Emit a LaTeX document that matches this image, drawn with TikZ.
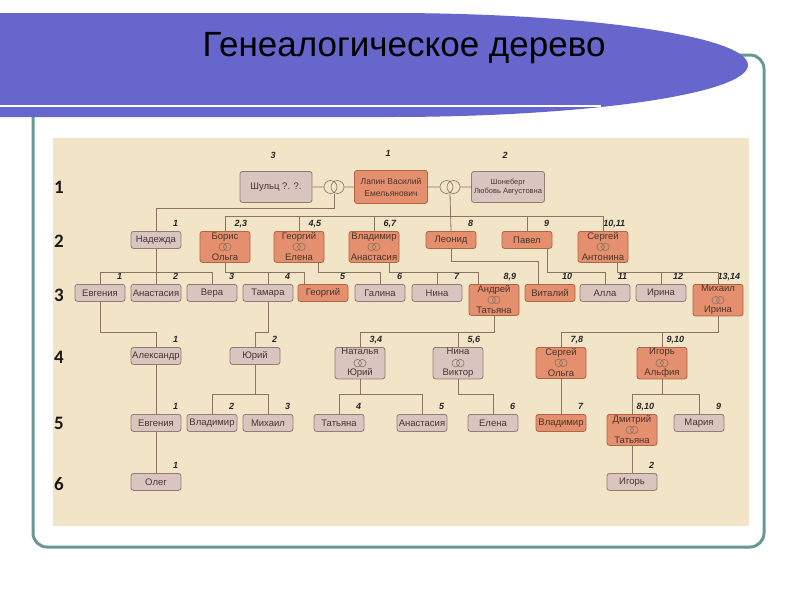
\documentclass[tikz,border=0pt]{standalone}
\usepackage{fontspec}
\setmainfont{Liberation Sans}
\newfontfamily\genfont{Carlito}

\definecolor{banner}{RGB}{102,102,204}
\definecolor{frame}{RGB}{104,152,150}
\definecolor{paper}{RGB}{242,228,199}
\definecolor{graybox}{RGB}{217,197,191}
\definecolor{grayedge}{RGB}{146,124,116}
\definecolor{salmon}{RGB}{228,143,110}
\definecolor{salmonedge}{RGB}{178,100,70}
\definecolor{linkcol}{RGB}{138,116,98}
\definecolor{txt}{RGB}{72,54,46}

\tikzset{
  box/.style={draw=grayedge, fill=graybox, rounded corners=2.5pt, line width=0.8pt,
              minimum width=50pt, minimum height=17pt, inner sep=1pt, anchor=north,
              text=txt, font=\fontsize{9.5}{10}\selectfont},
  direct/.style={draw=salmonedge, fill=salmon},
  couple/.style={minimum height=31pt, align=center},
  num/.style={anchor=base east, xshift=-3pt, yshift=5pt, inner sep=0pt,
              font=\fontsize{9}{10}\selectfont\bfseries\itshape, text=black!85},
  gen/.style={font=\genfont\bfseries\fontsize{19}{20}\selectfont, text=black!90},
  rings/.style={minimum width=20pt, minimum height=13pt, inner sep=0pt},
  link/.style={draw=linkcol, line width=0.8pt},
  ring/.style={draw=linkcol, line width=0.6pt}
}

\begin{document}
\begin{tikzpicture}[x=1pt, y=-1pt]
  \useasboundingbox (0,0) rectangle (800,600);
  % slide
  \fill[paper] (53,138) rectangle (749,526);
  \draw[frame, line width=3pt, rounded corners=14pt] (33,55) rectangle (764,547);
  \fill[banner] (0,13) -- (390,13) arc[start angle=90, end angle=-90, x radius=358pt, y radius=52pt]
    -- (0,117) -- cycle;
  \draw[white, line width=1.5pt] (0,106) -- (601,106);
  \node[font=\fontsize{35}{40}\selectfont] (title) at (404,48) {Генеалогическое дерево};

  % generation numbers
  \node[gen] (g1) at (59,187) {1};
  \node[gen] (g2) at (59,241) {2};
  \node[gen] (g3) at (59,295) {3};
  \node[gen] (g4) at (59,357) {4};
  \node[gen] (g5) at (59,423) {5};
  \node[gen] (g6) at (59,484) {6};

  \coordinate (lvl2a) at (0,208);
  \coordinate (lvl2b) at (0,216);
  \coordinate (lvl3) at (0,272);
  \coordinate (lvl3b) at (0,261);
  \coordinate (lvl4) at (0,332);
  \coordinate (lvl5) at (0,394);

  % generation 1
  \node[box, minimum width=72pt, minimum height=31pt] (shu) at (276,171) {Шульц ?. ?.};
  \node[box, direct, minimum width=73pt, minimum height=33pt, align=center,
        font=\fontsize{8.5}{12}\selectfont] (lap) at (391,170) {Лапин Василий\\Емельянович};
  \node[box, minimum width=73pt, minimum height=31pt, align=center,
        font=\fontsize{7.5}{9.5}\selectfont] (sho) at (508,171) {Шонеберг\\Любовь Августовна};
  \node[num, anchor=base, xshift=0pt, yshift=8pt] (shu-n) at (shu.north) {3};
  \node[num, anchor=base, xshift=0pt, yshift=9pt] (lap-n) at (lap.north) {1};
  \node[num, anchor=base, xshift=0pt, yshift=8pt] (sho-n) at (sho.north) {2};
  \node[rings] (r1) at (334,187) {};
  \node[rings] (r2) at (450,187) {};
  \draw[ring] ([xshift=-3.5pt]r1.center) circle (6.5pt) ([xshift=3.5pt]r1.center) circle (6.5pt);
  \draw[ring] ([xshift=-3.5pt]r2.center) circle (6.5pt) ([xshift=3.5pt]r2.center) circle (6.5pt);
  \draw[link] (shu.east) -- (r1.west) (r1.east) -- (lap.west);
  \draw[link] (lap.east) -- (r2.west) (r2.east) -- (sho.west);

  % generation 2
  \node[box] (nad) at (156,231) {Надежда};
  \node[box, direct, couple] (bor) at (225,231) {Борис\\[11pt]Ольга};
  \node[box, direct, couple] (gre) at (299,231) {Георгий\\[11pt]Елена};
  \node[box, direct, couple] (vla) at (374,231) {Владимир\\[11pt]Анастасия};
  \node[box, direct] (leo) at (451,231) {Леонид};
  \node[box, direct] (pav) at (527,231) {Павел};
  \node[box, direct, couple] (ser) at (603,231) {Сергей\\[11pt]Антонина};
  \node[num] (nad-n) at (nad.north east) {1};
  \node[num] (bor-n) at (bor.north east) {2,3};
  \node[num] (gre-n) at (gre.north east) {4,5};
  \node[num] (vla-n) at (vla.north east) {6,7};
  \node[num] (leo-n) at (leo.north east) {8};
  \node[num] (pav-n) at (pav.north east) {9};
  \node[num] (ser-n) at (ser.north east) {10,11};
  \draw[link] (r1.south) -- (r1.south |- lvl2a) -| (nad.north);
  \draw[link] (r2.south) -- (leo.north);
  \draw[link] (bor.north) |- (ser.north |- lvl2b) -- (ser.north);
  \draw[link] (gre.north) -- (gre.north |- lvl2b);
  \draw[link] (vla.north) -- (vla.north |- lvl2b);
  \draw[link] (pav.north) -- (pav.north |- lvl2b);

  % generation 3
  \node[box] (evg) at (100,284) {Евгения};
  \node[box] (ana) at (156,284) {Анастасия};
  \node[box] (ver) at (212,284) {Вера};
  \node[box] (tam) at (268,284) {Тамара};
  \node[box, direct] (geo) at (323,284) {Георгий};
  \node[box] (gal) at (380,284) {Галина};
  \node[box] (nin) at (437,284) {Нина};
  \node[box, direct, couple] (and) at (494,284) {Андрей\\[11pt]Татьяна};
  \node[box, direct] (vit) at (550,284) {Виталий};
  \node[box] (all) at (605,284) {Алла};
  \node[box] (iri) at (661,284) {Ирина};
  \node[box, direct, couple] (mih) at (718,284) {Михаил\\[11pt]Ирина};
  \node[num] (evg-n) at (evg.north east) {1};
  \node[num] (ana-n) at (ana.north east) {2};
  \node[num] (ver-n) at (ver.north east) {3};
  \node[num] (tam-n) at (tam.north east) {4};
  \node[num] (geo-n) at (geo.north east) {5};
  \node[num] (gal-n) at (gal.north east) {6};
  \node[num] (nin-n) at (nin.north east) {7};
  \node[num] (and-n) at (and.north east) {8,9};
  \node[num] (vit-n) at (vit.north east) {10};
  \node[num] (all-n) at (all.north east) {11};
  \node[num] (iri-n) at (iri.north east) {12};
  \node[num] (mih-n) at (mih.north east) {13,14};
  \draw[link] (nad.south) -- (ana.north);
  \draw[link] (evg.north) |- (ver.north |- lvl3) -- (ver.north);
  \draw[link] (bor.south) -- (bor.south |- lvl3) -| ([xshift=-19pt]geo.north);
  \draw[link] (tam.north) -- (tam.north |- lvl3);
  \draw[link] ([xshift=19pt]gre.south) -- ([xshift=19pt]gre.south |- lvl3) -| (gal.north);
  \draw[link] ([xshift=15pt]vla.south) -- ([xshift=15pt]vla.south |- lvl3) -| ([xshift=-16pt]and.north);
  \draw[link] (nin.north) -- (nin.north |- lvl3);
  \draw[link] (leo.south) -- (leo.south |- lvl3b) -| ([xshift=-12pt]vit.north);
  \draw[link] ([xshift=20pt]pav.south) -- ([xshift=20pt]pav.south |- lvl3) -| (all.north);
  \draw[link] ([xshift=14pt]ser.south) -- ([xshift=14pt]ser.south |- lvl3) -| (mih.north);
  \draw[link] (iri.north) -- (iri.north |- lvl3);

  % generation 4
  \node[box] (ale) at (156,347) {Александр};
  \node[box] (yur) at (255,347) {Юрий};
  \node[box, couple] (nat) at (360,347) {Наталья\\[11pt]Юрий};
  \node[box, couple] (niv) at (458,347) {Нина\\[11pt]Виктор};
  \node[box, direct, couple] (svo) at (561,347) {Сергей\\[11pt]Ольга};
  \node[box, direct, couple] (iga) at (662,347) {Игорь\\[11pt]Альфия};
  \node[num] (ale-n) at (ale.north east) {1};
  \node[num] (yur-n) at (yur.north east) {2};
  \node[num] (nat-n) at (nat.north east) {3,4};
  \node[num] (niv-n) at (niv.north east) {5,6};
  \node[num] (svo-n) at (svo.north east) {7,8};
  \node[num] (iga-n) at (iga.north east) {9,10};
  \draw[link] (evg.south) -- (evg.south |- lvl4) -| (ale.north);
  \draw[link] (tam.south) -- (tam.south |- lvl4) -| (yur.north);
  \draw[link] (nat.north) |- (and.south |- lvl4) -- (and.south);
  \draw[link] (niv.north) -- (niv.north |- lvl4);
  \draw[link] (svo.north) |- (mih.south |- lvl4) -- (mih.south);
  \draw[link] (iga.north) -- (iga.north |- lvl4);

  % generation 5
  \node[box] (evg5) at (156,414) {Евгения};
  \node[box] (vld) at (212,414) {Владимир};
  \node[box] (mhl) at (268,414) {Михаил};
  \node[box] (tat) at (339,414) {Татьяна};
  \node[box] (ans) at (422,414) {Анастасия};
  \node[box] (ele) at (493,414) {Елена};
  \node[box, direct] (vlm) at (561,414) {Владимир};
  \node[box, direct, couple] (dmi) at (632,414) {Дмитрий\\[11pt]Татьяна};
  \node[box] (mar) at (699,414) {Мария};
  \node[num] (evg5-n) at (evg5.north east) {1};
  \node[num] (vld-n) at (vld.north east) {2};
  \node[num] (mhl-n) at (mhl.north east) {3};
  \node[num] (tat-n) at (tat.north east) {4};
  \node[num] (ans-n) at (ans.north east) {5};
  \node[num] (ele-n) at (ele.north east) {6};
  \node[num] (vlm-n) at (vlm.north east) {7};
  \node[num] (dmi-n) at (dmi.north east) {8,10};
  \node[num] (mar-n) at (mar.north east) {9};
  \draw[link] (ale.south) -- (evg5.north);
  \draw[link] (yur.south) -- (yur.south |- lvl5);
  \draw[link] (vld.north) |- (mhl.north |- lvl5) -- (mhl.north);
  \draw[link] (nat.south) -- (nat.south |- lvl5);
  \draw[link] (tat.north) |- (ans.north |- lvl5) -- (ans.north);
  \draw[link] (niv.south) -- (niv.south |- lvl5) -| (ele.north);
  \draw[link] (svo.south) -- (vlm.north);
  \draw[link] (iga.south) -- (iga.south |- lvl5);
  \draw[link] (dmi.north) |- (mar.north |- lvl5) -- (mar.north);

  % generation 6
  \node[box] (ole) at (156,473) {Олег};
  \node[box] (igo) at (632,473) {Игорь};
  \node[num] (ole-n) at (ole.north east) {1};
  \node[num] (igo-n) at (igo.north east) {2};
  \draw[link] (evg5.south) -- (ole.north);
  \draw[link] (dmi.south) -- (igo.north);

  % wedding rings in couples
  \foreach \c in {bor,gre,vla,ser,and,mih,nat,niv,svo,iga,dmi}
    \draw[ring] ([xshift=-2.3pt]\c.center) circle (3.8pt) ([xshift=2.3pt]\c.center) circle (3.8pt);
\end{tikzpicture}
\end{document}
